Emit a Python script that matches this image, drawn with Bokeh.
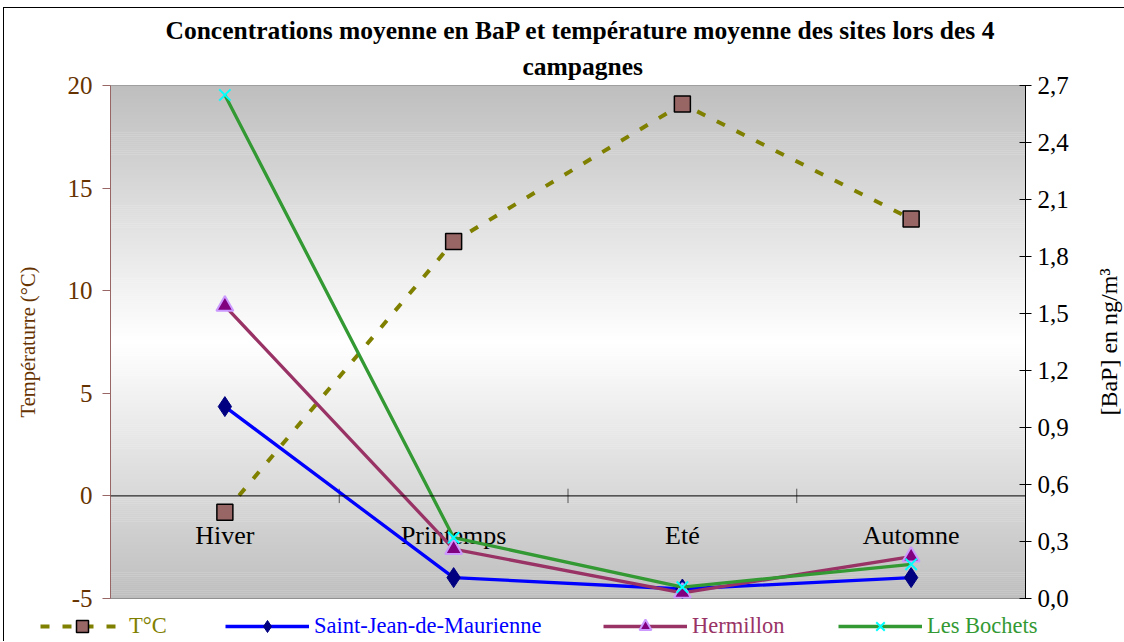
from bokeh.plotting import figure
from bokeh.layouts import column, row
from bokeh.models import (Range1d, LinearAxis, FixedTicker, CustomJSTickFormatter,
                          Legend, LegendItem, Span, Title)
from bokeh.core.properties import value
from bokeh.embed import file_html
from bokeh.resources import INLINE
import numpy as np

# ---------------- data ----------------
saisons = ["Hiver", "Printemps", "Eté", "Automne"]
temperature = [-0.8, 12.4, 19.1, 13.5]          # °C (left axis)
saint_jean = [1.01, 0.11, 0.05, 0.11]            # ng/m3 (right axis)
hermillon = [1.54, 0.26, 0.03, 0.22]
les_bochets = [2.65, 0.32, 0.06, 0.18]
temp_ticks = [-5, 0, 5, 10, 15, 20]
bap_ticks = [0.0, 0.3, 0.6, 0.9, 1.2, 1.5, 1.8, 2.1, 2.4, 2.7]

SERIF = "Liberation Serif"
n = len(saisons)
xs = [i + 0.5 for i in range(n)]

p = figure(width=1074, height=604, output_backend="svg", toolbar_location=None,
           x_range=Range1d(0, n), y_range=Range1d(temp_ticks[0], temp_ticks[-1]),
           x_axis_location=None, y_axis_location="left",
           min_border_left=106, min_border_right=53, min_border_top=77, min_border_bottom=14)
p.extra_y_ranges = {"bap": Range1d(bap_ticks[0], bap_ticks[-1])}
p.grid.visible = False
p.outline_line_color = "#808080"
p.background_fill_color = "white"

# titles
p.title.text = "Concentrations moyenne en BaP et température moyenne des sites lors des 4"
p.title.align = "left"
p.title.offset = 55
p.title.text_font = SERIF
p.title.text_font_size = "25.5px"
p.title.text_font_style = "bold"
p.title.text_color = "black"
p.title.standoff = 2
p.add_layout(Title(text="campagnes", align="left", offset=412, text_font=SERIF,
                   text_font_size="25.5px", text_font_style="bold",
                   text_color="black", standoff=9), "above")

# gradient background (gray - white - gray)
nb = 260
edges = np.linspace(temp_ticks[0], temp_ticks[-1], nb + 1)
cols = []
for i in range(nb):
    t = (i + 0.5) / nb
    v = int(round(190 + 65 * (1 - abs(2 * t - 1))))
    cols.append("#%02x%02x%02x" % (v, v, v))
p.quad(left=0, right=n, bottom=edges[:-1], top=edges[1:] + 0.02, fill_color=cols,
       line_color=None, level="underlay")

# left axis
ya = p.yaxis[0]
ya.ticker = FixedTicker(ticks=temp_ticks)
ya.formatter = CustomJSTickFormatter(code="return tick.toString();")
ya.axis_label = "Températurre (°C)"
ya.axis_label_text_font = SERIF
ya.axis_label_text_font_size = "20.5px"
ya.axis_label_text_font_style = "normal"
ya.axis_label_text_color = "#663300"
ya.major_label_text_font = SERIF
ya.major_label_text_font_size = "25px"
ya.major_label_text_color = "#663300"
ya.axis_line_color = "#996666"
ya.major_tick_line_color = "#996666"
ya.major_tick_out = 8
ya.major_tick_in = 0
ya.minor_tick_line_color = None
ya.major_label_standoff = 10
ya.axis_label_standoff = 26

# right axis (its title is drawn in the narrow strip to the right, reading upwards)
ra = LinearAxis(y_range_name="bap", ticker=FixedTicker(ticks=bap_ticks),
                formatter=CustomJSTickFormatter(code="return tick.toFixed(1).replace('.', ',');"))
ra.major_label_text_font = SERIF
ra.major_label_text_font_size = "25px"
ra.major_label_text_color = "black"
ra.axis_line_color = "black"
ra.major_tick_line_color = "black"
ra.major_tick_out = 6
ra.major_tick_in = 6
ra.minor_tick_line_color = None
ra.major_label_standoff = 6
p.add_layout(ra, "right")

# zero line with category ticks and labels
p.add_layout(Span(location=0, dimension="width", line_color="black", line_width=1))
bounds = list(range(n))
p.segment(x0=bounds[1:], y0=-0.35, x1=bounds[1:], y1=0.35, line_color="#555555", line_width=1)
p.segment(x0=[0], y0=-0.4, x1=[0], y1=0.4, line_color="black", line_width=1)
p.text(x=xs, y=-1.95, text=saisons, text_align="center", text_baseline="middle",
       text_font=value(SERIF), text_font_size="26px", text_color="black")

# series
T_STYLE = dict(line_color="#808000", line_width=4, line_dash="9 13")
SJ_STYLE = dict(line_color="#0000ff", line_width=3.3)
H_STYLE = dict(line_color="#993366", line_width=3.3)
B_STYLE = dict(line_color="#339933", line_width=3.3)
T_MK = dict(marker="square", size=16, fill_color="#996666", line_color="black", line_width=1.5)
SJ_MK = dict(marker="diamond", size=20, fill_color="#000080", line_color="#000080")
H_MK = dict(marker="triangle", size=17, fill_color="#800080", line_color="#cc99ff", line_width=2)
B_MK = dict(marker="x", size=16, line_color="#00ffff", line_width=2)

p.line(xs, temperature, **T_STYLE)
p.scatter(xs, temperature, **T_MK)
p.line(xs, saint_jean, y_range_name="bap", **SJ_STYLE)
p.scatter(xs, saint_jean, y_range_name="bap", **SJ_MK)
p.line(xs, hermillon, y_range_name="bap", **H_STYLE)
p.scatter(xs, hermillon, y_range_name="bap", **H_MK)
p.line(xs, les_bochets, y_range_name="bap", **B_STYLE)
p.scatter(xs, les_bochets, y_range_name="bap", **B_MK)

# narrow strip holding the right axis title (reads bottom to top)
rl = figure(width=46, height=604, output_backend="svg", toolbar_location=None,
            x_range=Range1d(0, 1), y_range=Range1d(0, 1),
            x_axis_location=None, y_axis_location=None,
            min_border_left=44, min_border_right=0, min_border_top=77, min_border_bottom=14)
rl.grid.visible = False
rl.outline_line_color = None
rl.title = None
rl.add_layout(Title(text="[BaP] en ng/m³", align="center", text_font=SERIF,
                    text_font_size="24px", text_font_style="normal",
                    text_color="black", standoff=1), "left")

# legend strip below the chart (one legend per series so each label has its own colour);
# its ranges are far from the data so only the legend glyphs show
lg = figure(width=1120, height=29, output_backend="svg", toolbar_location=None,
            x_range=Range1d(-100, -99), y_range=Range1d(-100, -99),
            x_axis_location=None, y_axis_location=None,
            min_border=0, min_border_left=0, min_border_right=0,
            min_border_top=0, min_border_bottom=0)
lg.grid.visible = False
lg.outline_line_color = None
for fig in (p, rl, lg):
    if "frame_align" in fig.properties():
        fig.frame_align = False

series = [("T°C", temperature, T_STYLE, T_MK, "#808000", 36),
          ("Saint-Jean-de-Maurienne", saint_jean, SJ_STYLE, SJ_MK, "#0000ff", 221),
          ("Hermillon", hermillon, H_STYLE, H_MK, "#993366", 599),
          ("Les Bochets", les_bochets, B_STYLE, B_MK, "#339933", 834)]
for label, vals, lstyle, mstyle, col, xoff in series:
    r1 = lg.line(xs, vals, **lstyle)
    r2 = lg.scatter(xs, vals, **mstyle)
    leg = Legend(items=[LegendItem(label=label, renderers=[r1, r2])], location=(xoff, 0),
                 orientation="horizontal", glyph_width=84, glyph_height=30,
                 label_text_color=col, label_text_font=SERIF, label_text_font_size="22.5px",
                 background_fill_alpha=0, border_line_alpha=0, padding=0, margin=0,
                 label_standoff=5, label_height=20)
    lg.add_layout(leg)

layout = column(row(p, rl), lg,
                styles={"margin-left": "3px", "margin-top": "7px",
                        "border-left": "1px solid black",
                        "border-top": "1px solid black"})

open("out.html", "w").write(file_html(layout, INLINE))
